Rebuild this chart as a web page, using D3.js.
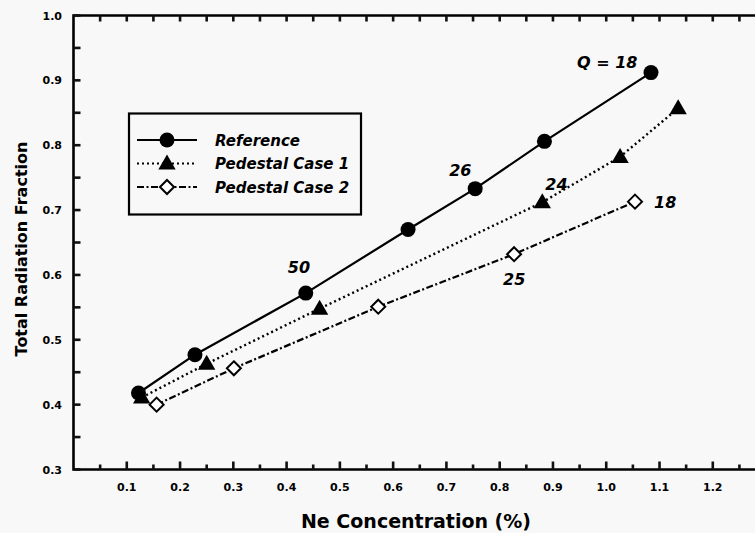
<!DOCTYPE html>
<html><head><meta charset="utf-8">
<script src="https://cdn.jsdelivr.net/npm/d3@7/dist/d3.min.js"></script>
<style>
html,body{margin:0;padding:0;background:#f8f8f8;}
svg{display:block;font-family:"DejaVu Sans","Liberation Sans",Arial,sans-serif;}
</style></head><body>
<svg id="c" width="755" height="533"></svg>
<script>
// Data
const refX = [0.122, 0.228, 0.436, 0.628, 0.754, 0.884, 1.084];
const refY = [0.418, 0.477, 0.572, 0.670, 0.733, 0.806, 0.912];
const ped1X = [0.128, 0.250, 0.462, 0.880, 1.026, 1.135];
const ped1Y = [0.411, 0.463, 0.548, 0.712, 0.782, 0.857];
const ped2X = [0.156, 0.301, 0.572, 0.827, 1.054];
const ped2Y = [0.400, 0.456, 0.551, 0.632, 0.713];
const seriesNames = ["Reference", "Pedestal Case 1", "Pedestal Case 2"];
const xTicks = [0.1,0.2,0.3,0.4,0.5,0.6,0.7,0.8,0.9,1.0,1.1,1.2];
const xMinorTicks = [0.05,0.15,0.25,0.35,0.45,0.55,0.65,0.75,0.85,0.95,1.05,1.15,1.25];
const yTicks = [0.3,0.4,0.5,0.6,0.7,0.8,0.9,1.0];
const yMinorTicks = [0.35,0.45,0.55,0.65,0.75,0.85,0.95];
const notes = [
  {text:"Q = 18", x:1.084, y:0.912, dx:-74, dy:-5},
  {text:"26", x:0.754, y:0.733, dx:-26, dy:-13},
  {text:"50", x:0.436, y:0.572, dx:-18, dy:-20},
  {text:"24", x:0.880, y:0.712, dx:3, dy:-12},
  {text:"18", x:1.054, y:0.713, dx:19, dy:6},
  {text:"25", x:0.827, y:0.632, dx:-11, dy:31}
];

const svg = d3.select("#c");
const x = d3.scaleLinear().domain([0, 1.283]).range([73.5, 757]);
const y = d3.scaleLinear().domain([0.3, 1.0]).range([469.5, 15.5]);
const X0 = x(0), XR = x.range()[1], YB = y(0.3), YT = y(1.0);

// axis lines (top, left, bottom)
svg.append("path")
  .attr("d", `M${XR},${YT}H${X0}V${YB}H${XR}`)
  .attr("fill","none").attr("stroke","#000").attr("stroke-width",2.6);

// tick labels
svg.append("g").selectAll("text").data(xTicks).join("text")
  .attr("x", d=>x(d)).attr("y", 491).attr("text-anchor","middle")
  .attr("font-size",11).attr("font-weight","bold").text(d=>d3.format(".1f")(d));
svg.append("g").selectAll("text").data(yTicks).join("text")
  .attr("x", 62).attr("y", d=>y(d)+4).attr("text-anchor","end")
  .attr("font-size",11).attr("font-weight","bold").text(d=>d3.format(".1f")(d));

// axis titles
svg.append("text").attr("x", 416).attr("y", 528).attr("text-anchor","middle")
  .attr("font-size",19).attr("font-weight","bold").text("Ne Concentration (%)");
svg.append("text").attr("transform","translate(27,249) rotate(-90)").attr("text-anchor","middle")
  .attr("font-size",16).attr("font-weight","bold").text("Total Radiation Fraction");

const line = d3.line().x(d=>x(d[0])).y(d=>y(d[1]));
const refPts = d3.zip(refX, refY), p1Pts = d3.zip(ped1X, ped1Y), p2Pts = d3.zip(ped2X, ped2Y);
const dash1 = "2,3", dash2 = "7,2.5,2,2.5";

svg.append("path").attr("d", line(refPts)).attr("fill","none").attr("stroke","#000").attr("stroke-width",2.2);
svg.append("path").attr("d", line(p1Pts)).attr("fill","none").attr("stroke","#000").attr("stroke-width",2.4).attr("stroke-dasharray",dash1);
svg.append("path").attr("d", line(p2Pts)).attr("fill","none").attr("stroke","#000").attr("stroke-width",2.2).attr("stroke-dasharray",dash2);

const tri = d3.symbol().type(d3.symbolTriangle).size(130);
const dia = (s)=>`M0,${-s}L${s},0L0,${s}L${-s},0Z`;

function circle(g, cx, cy){ g.append("circle").attr("cx",cx).attr("cy",cy).attr("r",7.5).attr("fill","#000"); }
function triangle(g, cx, cy){ g.append("path").attr("d",tri()).attr("transform",`translate(${cx},${cy+1})`).attr("fill","#000"); }
function diamond(g, cx, cy){ g.append("path").attr("d",dia(7)).attr("transform",`translate(${cx},${cy})`).attr("fill","#fff").attr("stroke","#000").attr("stroke-width",2); }

const mk = svg.append("g");
p2Pts.forEach(p=>diamond(mk, x(p[0]), y(p[1])));
p1Pts.forEach(p=>triangle(mk, x(p[0]), y(p[1])));
refPts.forEach(p=>circle(mk, x(p[0]), y(p[1])));

// annotations
svg.append("g").selectAll("text").data(notes).join("text")
  .attr("x", d=>x(d.x)+d.dx).attr("y", d=>y(d.y)+d.dy)
  .attr("font-size",16).attr("font-weight","bold").attr("font-style","italic").text(d=>d.text);

// legend
const lg = svg.append("g");
lg.append("rect").attr("x",129).attr("y",113.5).attr("width",232).attr("height",101)
  .attr("fill","none").attr("stroke","#000").attr("stroke-width",2.2);
const rows = [140, 163.5, 187];
const dashes = [null, dash1, dash2];
const drawers = [circle, triangle, diamond];
seriesNames.forEach((n,i)=>{
  lg.append("line").attr("x1",137).attr("x2",197).attr("y1",rows[i]).attr("y2",rows[i])
    .attr("stroke","#000").attr("stroke-width",2).attr("stroke-dasharray",dashes[i]);
  drawers[i](lg, 167, rows[i]);
  lg.append("text").attr("x",215).attr("y",rows[i]+5.5).attr("font-size",15)
    .attr("font-weight","bold").attr("font-style","italic").text(n);
});

// inward ticks, drawn last as filled rects from the scales
const tg = svg.append("g").attr("fill","#111");
tg.selectAll(".bx").data(xTicks).join("rect").attr("class","bx")
  .attr("x",d=>x(d)-1.3).attr("width",2.6).attr("y",YB-8).attr("height",8);
tg.selectAll(".bxm").data(xMinorTicks).join("rect").attr("class","bxm")
  .attr("x",d=>x(d)-1.3).attr("width",2.6).attr("y",YB-5).attr("height",5);
tg.selectAll(".tx").data(xTicks.concat(xMinorTicks)).join("rect").attr("class","tx")
  .attr("x",d=>x(d)-1.3).attr("width",2.6).attr("y",YT).attr("height",6);
tg.selectAll(".ly").data(yTicks.concat(yMinorTicks)).join("rect").attr("class","ly")
  .attr("x",X0).attr("width",7).attr("y",d=>y(d)-1.3).attr("height",2.6);
</script>
</body></html>
